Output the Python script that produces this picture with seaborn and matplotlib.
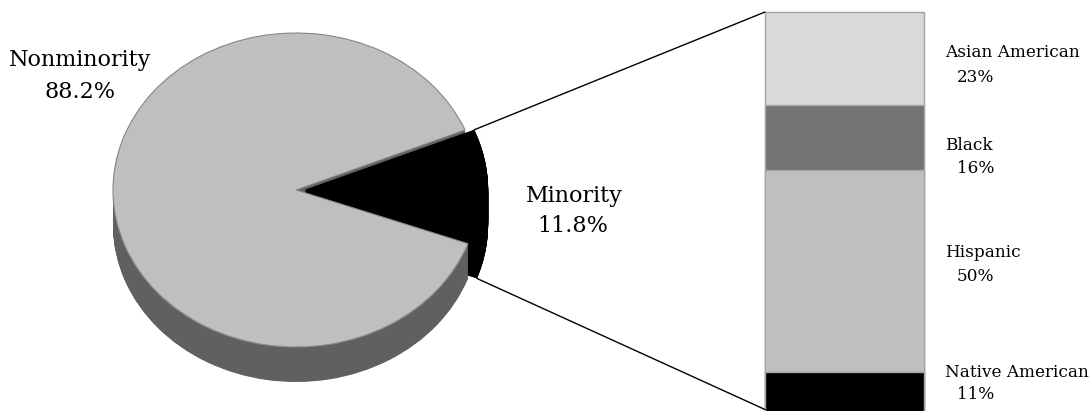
import numpy as np
import matplotlib
matplotlib.use("Agg")
import matplotlib.pyplot as plt
from matplotlib.patches import ConnectionPatch
import seaborn as sns

# Overall split (minority first so it sits on the right of the pie)
pie_labels = ["Minority", "Nonminority"]
pie_values = [11.8, 88.2]

# Breakdown of the minority share, listed from the top of the column down
groups = ["Asian American", "Black", "Hispanic", "Native American"]
group_shares = [23, 16, 50, 11]

sns.set_theme(style="white")
plt.rcParams["font.family"] = ["DejaVu Serif"]
plt.rcParams["text.color"] = "black"

W, H = 1091, 411
fig = plt.figure(figsize=(W / 100, H / 100), dpi=100)
ax = fig.add_axes([0, 0, 1, 1])

# Pie layout in pixels: centre and the two radii of the tilted disc
cx, cy = 296, 190
rx, ry = 183, 157
depth = 35 / ry          # thickness of the disc, in data units
explode = 0.05
start = -20.0

top_colors = ["#000000", "#bfbfbf"]
side_colors = ["#000000", "#606060"]

# Side of the disc: stacked copies of the pie pushed downwards
for z in np.linspace(depth, 0, 60):
    ax.pie(pie_values, colors=side_colors, startangle=start,
           explode=[explode, 0], center=(0, -z), radius=1,
           wedgeprops=dict(linewidth=0))

# Top face
wedges, _ = ax.pie(pie_values, colors=top_colors, startangle=start,
                   explode=[explode, 0], wedgeprops=dict(linewidth=0))
wedges[1].set_edgecolor("#8a8a8a")
wedges[1].set_linewidth(0.8)

ax.set_aspect("auto")
ax.set_xlim((0 - cx) / rx, (W - cx) / rx)
ax.set_ylim((cy - H) / ry, cy / ry)
ax.axis("off")


def fx(px):
    return px / W


def fy(py):
    return 1 - py / H


big = 16
small = 12.2

fig.text(fx(80), fy(66), pie_labels[1], ha="center", va="baseline", fontsize=big, color="black")
fig.text(fx(80), fy(98), f"{pie_values[1]}%", ha="center", va="baseline", fontsize=big, color="black")
fig.text(fx(574), fy(202), pie_labels[0], ha="center", va="baseline", fontsize=big, color="black")
fig.text(fx(573), fy(232), f"{pie_values[0]}%", ha="center", va="baseline", fontsize=big, color="black")

# Stacked column for the minority breakdown
bax = fig.add_axes([765 / W, (H - 416.5) / H, 159 / W, 404.5 / H])
bar_colors = ["#d9d9d9", "#737373", "#bfbfbf", "#000000"]
tops = np.cumsum(group_shares[::-1])[::-1]
for top, col in zip(tops, bar_colors):
    sns.barplot(x=[0], y=[top], color=col, saturation=1, width=1,
                edgecolor="#a6a6a6", linewidth=1, ax=bax)
bax.set_xlim(-0.5, 0.5)
bax.set_ylim(0, 100)
bax.axis("off")
for p in bax.patches:
    p.set_clip_on(False)

name_baselines = [57, 150, 257, 377]
pct_baselines = [82, 173, 281, 399]
for g, s, yn, yp in zip(groups, group_shares, name_baselines, pct_baselines):
    fig.text(fx(945), fy(yn), g, ha="left", va="baseline", fontsize=small, color="black")
    fig.text(fx(957), fy(yp), f"{s}%", ha="left", va="baseline", fontsize=small, color="black")

# Connector lines from the exploded slice to the column
theta1 = np.deg2rad(start)
theta2 = np.deg2rad(start + pie_values[0] / 100 * 360)
mid = (theta1 + theta2) / 2
ox, oy = explode * np.cos(mid), explode * np.sin(mid)
upper = (ox + np.cos(theta2), oy + np.sin(theta2))
lower = (ox + np.cos(theta1), oy + np.sin(theta1) - depth)
bar_left = bax.get_position().x0
con = ConnectionPatch(xyA=upper, coordsA=ax.transData, xyB=(-0.5, 100),
                      coordsB=bax.transData, color="black", linewidth=1)
fig.add_artist(con)
con = ConnectionPatch(xyA=lower, coordsA=ax.transData, xyB=(bar_left, 1.5 / H),
                      coordsB="figure fraction", color="black", linewidth=1)
fig.add_artist(con)

fig.savefig("out.png", dpi=100)
